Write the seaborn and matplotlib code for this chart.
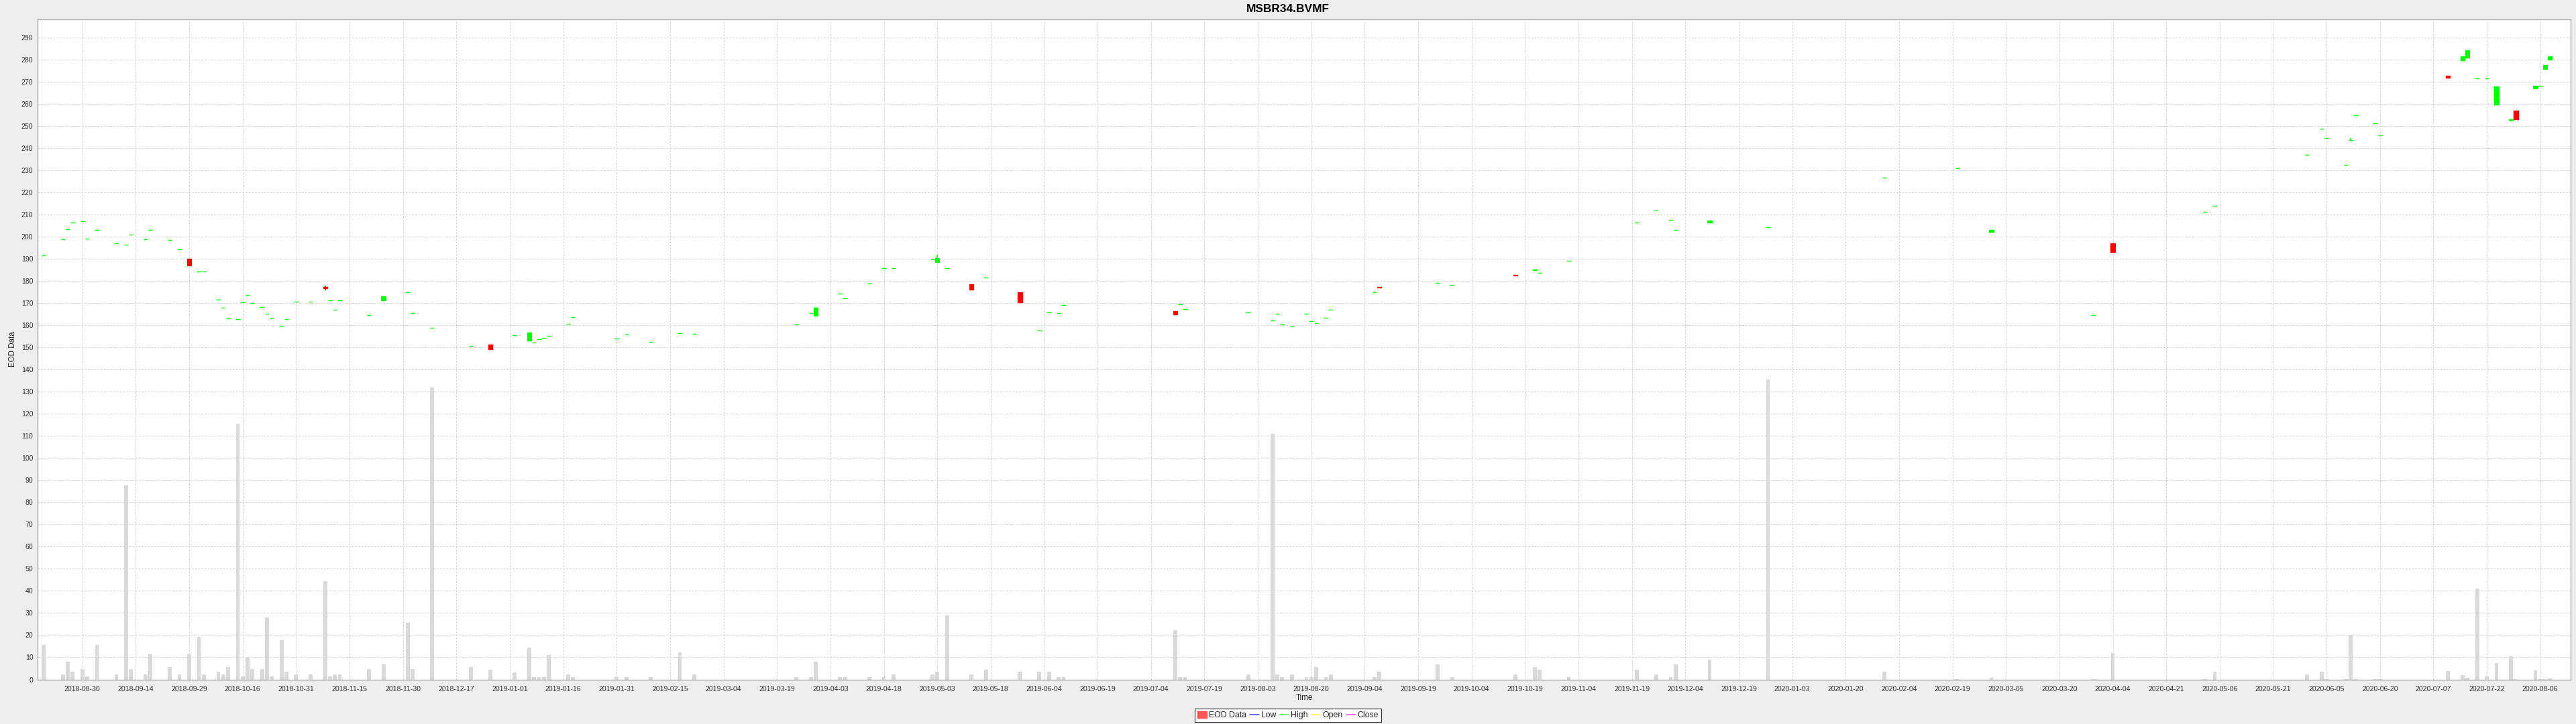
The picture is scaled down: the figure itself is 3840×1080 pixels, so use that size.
import numpy as np
import pandas as pd
import matplotlib
matplotlib.use("Agg")
import matplotlib.pyplot as plt
from matplotlib.lines import Line2D
from matplotlib.patches import Patch
import seaborn as sns

# ---------------- data ----------------
dates = [
    "2018-08-20", "2018-08-24", "2018-08-27", "2018-08-28", "2018-08-30", "2018-08-31",
    "2018-09-04", "2018-09-10", "2018-09-12", "2018-09-13", "2018-09-18", "2018-09-19",
    "2018-09-25", "2018-09-27", "2018-10-01", "2018-10-03", "2018-10-04", "2018-10-09",
    "2018-10-10", "2018-10-11", "2018-10-15", "2018-10-16", "2018-10-17", "2018-10-18",
    "2018-10-22", "2018-10-23", "2018-10-24", "2018-10-26", "2018-10-29", "2018-10-31",
    "2018-11-05", "2018-11-08", "2018-11-09", "2018-11-12", "2018-11-13", "2018-11-21",
    "2018-11-26", "2018-12-03", "2018-12-04", "2018-12-10", "2018-12-20", "2018-12-26",
    "2019-01-02", "2019-01-07", "2019-01-08", "2019-01-09", "2019-01-10", "2019-01-11",
    "2019-01-17", "2019-01-18", "2019-01-31", "2019-02-04", "2019-02-11", "2019-02-19",
    "2019-02-22", "2019-03-25", "2019-03-28", "2019-03-29", "2019-04-05", "2019-04-08",
    "2019-04-15", "2019-04-18", "2019-04-22", "2019-05-02", "2019-05-03", "2019-05-07",
    "2019-05-14", "2019-05-17", "2019-05-28", "2019-06-03", "2019-06-05", "2019-06-07",
    "2019-06-10", "2019-07-11", "2019-07-12", "2019-07-15", "2019-08-01", "2019-08-08",
    "2019-08-09", "2019-08-12", "2019-08-14", "2019-08-19", "2019-08-20", "2019-08-21",
    "2019-08-23", "2019-08-26", "2019-09-06", "2019-09-09", "2019-09-25", "2019-09-30",
    "2019-10-17", "2019-10-23", "2019-10-24", "2019-11-01", "2019-11-21", "2019-11-27",
    "2019-12-02", "2019-12-03", "2019-12-12", "2019-12-30", "2020-01-31", "2020-02-21",
    "2020-03-03", "2020-04-01", "2020-04-07", "2020-05-04", "2020-05-06", "2020-06-02",
    "2020-06-05", "2020-06-08", "2020-06-12", "2020-06-15", "2020-06-16", "2020-06-22",
    "2020-06-23", "2020-07-13", "2020-07-16", "2020-07-17", "2020-07-21", "2020-07-23",
    "2020-07-27", "2020-07-30", "2020-07-31", "2020-08-06", "2020-08-07", "2020-08-10",
    "2020-08-11",
]

open_ = [
    191.5, 198.7, 203.5, 206.5, 207.0, 199.0, 203.0, 196.9, 196.4, 201.0, 198.7, 203.1,
    198.4, 194.3, 190.0, 184.3, 184.2, 171.7, 167.9, 163.0, 162.8, 170.5, 173.7, 170.1,
    168.4, 165.2, 163.0, 159.6, 162.8, 170.6, 170.6, 177.2, 171.3, 167.0, 171.2, 164.7,
    171.2, 174.9, 165.6, 158.8, 150.7, 151.4, 155.4, 153.1, 152.2, 153.8, 154.3, 155.3,
    160.8, 163.8, 154.1, 155.7, 152.6, 156.4, 156.0, 160.5, 165.4, 164.3, 174.4, 172.3,
    178.9, 185.9, 185.9, 189.9, 188.6, 185.9, 178.6, 181.6, 174.9, 157.8, 165.7, 165.4,
    169.1, 166.5, 169.6, 167.2, 165.8, 162.2, 165.3, 160.3, 159.6, 165.3, 161.9, 161.1,
    163.4, 166.9, 174.9, 177.4, 179.2, 178.2, 182.9, 184.9, 183.8, 189.2, 206.5, 211.9,
    207.6, 203.0, 206.4, 204.2, 226.6, 230.8, 202.2, 164.7, 196.9, 211.4, 214.1, 237.1,
    248.9, 244.5, 232.6, 243.6, 255.0, 251.1, 245.8, 272.7, 279.8, 280.9, 271.6, 271.6,
    259.7, 252.8, 257.0, 266.9, 268.1, 275.7, 279.9,
]

close = [
    191.5, 198.7, 203.5, 206.5, 207.0, 199.0, 203.0, 196.9, 196.4, 201.0, 198.7, 203.1,
    198.4, 194.3, 186.9, 184.3, 184.2, 171.7, 167.9, 163.0, 162.8, 170.5, 173.7, 170.1,
    168.4, 165.2, 163.0, 159.6, 162.8, 170.6, 170.6, 176.6, 171.3, 167.0, 171.2, 164.7,
    173.1, 174.9, 165.6, 158.8, 150.7, 149.2, 155.4, 156.6, 152.2, 153.8, 154.3, 155.3,
    160.8, 163.8, 154.1, 155.7, 152.6, 156.4, 156.0, 160.5, 165.4, 167.9, 174.4, 172.3,
    178.9, 185.9, 185.9, 189.9, 190.5, 185.9, 176.1, 181.6, 170.5, 157.8, 165.7, 165.4,
    169.1, 165.0, 169.6, 167.2, 165.8, 162.2, 165.3, 160.3, 159.6, 165.3, 161.9, 161.1,
    163.4, 166.9, 174.9, 177.0, 179.2, 178.2, 182.6, 185.3, 183.8, 189.2, 206.5, 211.9,
    207.6, 203.0, 207.4, 204.2, 226.6, 230.8, 203.2, 164.7, 193.2, 211.4, 214.1, 237.1,
    248.9, 244.5, 232.6, 243.8, 255.0, 251.1, 245.8, 271.9, 281.6, 284.3, 271.6, 271.6,
    267.9, 253.1, 253.0, 268.1, 268.1, 277.7, 281.6,
]

high = [
    191.5, 198.7, 203.5, 206.5, 207.0, 199.0, 203.0, 196.9, 196.4, 201.0, 198.7, 203.1,
    198.4, 194.3, 190.0, 184.3, 184.2, 171.7, 167.9, 163.0, 162.8, 170.5, 173.7, 170.1,
    168.4, 165.2, 163.0, 159.6, 162.8, 170.6, 170.6, 177.9, 171.3, 167.0, 171.2, 164.7,
    173.1, 174.9, 165.6, 158.8, 150.7, 151.4, 155.4, 156.6, 152.2, 153.8, 154.3, 155.3,
    160.8, 163.8, 154.1, 155.7, 152.6, 156.4, 156.0, 160.5, 165.4, 167.9, 174.4, 172.3,
    178.9, 185.9, 185.9, 189.9, 191.9, 185.9, 178.6, 181.6, 174.9, 157.8, 165.7, 165.4,
    169.1, 166.5, 169.6, 167.2, 165.8, 162.2, 165.3, 160.3, 159.6, 165.3, 161.9, 161.1,
    163.4, 166.9, 174.9, 177.4, 179.2, 178.2, 182.9, 185.3, 183.8, 189.2, 206.5, 211.9,
    207.6, 203.0, 207.4, 204.2, 226.6, 230.8, 203.2, 164.7, 196.9, 211.4, 214.1, 237.1,
    248.9, 244.5, 232.6, 244.5, 255.0, 251.1, 245.8, 272.7, 281.6, 284.3, 271.6, 271.6,
    267.9, 253.2, 257.0, 268.1, 268.1, 277.7, 281.6,
]

low = [
    191.5, 198.7, 203.5, 206.5, 207.0, 199.0, 203.0, 196.9, 196.4, 201.0, 198.7, 203.1,
    198.4, 194.3, 186.9, 184.3, 184.2, 171.7, 167.9, 163.0, 162.8, 170.5, 173.7, 170.1,
    168.4, 165.2, 163.0, 159.6, 162.8, 170.6, 170.6, 175.8, 171.3, 167.0, 171.2, 164.7,
    171.2, 174.9, 165.6, 158.8, 150.7, 149.2, 155.4, 153.1, 152.2, 153.8, 154.3, 155.3,
    160.8, 163.8, 154.1, 155.7, 152.6, 156.4, 156.0, 160.5, 165.4, 164.3, 174.4, 172.3,
    178.9, 185.9, 185.9, 189.9, 188.6, 185.9, 176.1, 181.6, 170.5, 157.8, 165.7, 165.4,
    169.1, 165.0, 169.6, 167.2, 165.8, 162.2, 165.3, 160.3, 159.6, 165.3, 161.9, 161.1,
    163.4, 166.9, 174.9, 177.0, 179.2, 178.2, 182.6, 184.9, 183.8, 189.2, 206.5, 211.9,
    207.6, 203.0, 206.4, 204.2, 226.6, 230.8, 202.2, 164.7, 193.2, 211.4, 214.1, 237.1,
    248.9, 244.5, 232.6, 243.3, 255.0, 251.1, 245.8, 271.9, 279.8, 280.9, 271.6, 271.6,
    259.7, 252.3, 253.0, 266.9, 268.1, 275.7, 279.9,
]

volume = [
    15.6, 2.4, 7.9, 3.4, 4.6, 1.4, 15.6, 2.4, 87.6, 4.6, 2.4, 11.3,
    5.7, 2.4, 11.3, 19.1, 2.4, 3.4, 2.4, 5.7, 115.5, 1.4, 10.1, 4.6,
    4.6, 27.9, 1.4, 17.8, 3.4, 2.4, 2.4, 44.4, 1.4, 2.4, 2.4, 4.6,
    6.8, 25.6, 4.6, 132.0, 5.7, 4.5, 3.3, 14.4, 1.2, 1.2, 1.2, 11.2,
    2.3, 1.2, 1.2, 1.2, 1.2, 12.2, 2.3, 1.2, 1.2, 7.9, 1.2, 1.2,
    1.2, 1.2, 2.3, 2.3, 3.4, 28.9, 2.3, 4.5, 3.4, 3.4, 3.4, 1.2,
    1.2, 22.2, 1.2, 1.2, 2.3, 110.9, 2.3, 1.2, 2.3, 1.2, 1.2, 5.7,
    1.2, 2.3, 1.2, 3.4, 6.8, 1.2, 2.3, 5.7, 4.5, 1.2, 4.5, 2.3,
    1.2, 6.8, 9.0, 135.4, 3.4, 0.3, 0.7, 0.3, 11.9, 0.3, 3.4, 2.3,
    3.4, 0.3, 0.3, 20.1, 0.3, 0.3, 0.3, 3.7, 1.9, 0.7, 41.1, 1.4,
    7.3, 10.3, 0.3, 4.1, 0.3, 0.3, 0.6,
]

tick_labels = [
    "2018-08-30", "2018-09-14", "2018-09-29", "2018-10-16", "2018-10-31", "2018-11-15",
    "2018-11-30", "2018-12-17", "2019-01-01", "2019-01-16", "2019-01-31", "2019-02-15",
    "2019-03-04", "2019-03-19", "2019-04-03", "2019-04-18", "2019-05-03", "2019-05-18",
    "2019-06-04", "2019-06-19", "2019-07-04", "2019-07-19", "2019-08-03", "2019-08-20",
    "2019-09-04", "2019-09-19", "2019-10-04", "2019-10-19", "2019-11-04", "2019-11-19",
    "2019-12-04", "2019-12-19", "2020-01-03", "2020-01-20", "2020-02-04", "2020-02-19",
    "2020-03-05", "2020-03-20", "2020-04-04", "2020-04-21", "2020-05-06", "2020-05-21",
    "2020-06-05", "2020-06-20", "2020-07-07", "2020-07-22", "2020-08-06",
]
y_ticks = list(range(0, 300, 10))

title = "MSBR34.BVMF"
x_label = "Time"
y_label = "EOD Data"
legend_labels = ["EOD Data", "Low", "High", "Open", "Close"]

# ---------------- styling ----------------
sns.set_style("white")
plt.rcParams["font.family"] = ["Liberation Sans", "DejaVu Sans"]

W, H, DPI = 3840, 1080, 100
UP, DOWN = "#00ff00", "#ff0000"
GRID = "#d2d2d2"
BORDER = "#a8a8a8"
TICK_STEP = 11  # weekdays between date ticks (segmented Mon-Fri time axis)

df = pd.DataFrame({"date": pd.to_datetime(dates), "open": open_, "high": high,
                   "low": low, "close": close, "volume": volume})
# position on a Monday-Friday (weekends removed) time line
df["x"] = np.busday_count(np.datetime64(tick_labels[0]),
                          df["date"].values.astype("datetime64[D]"))
df["up"] = df["close"] >= df["open"]
df["color"] = np.where(df["up"], UP, DOWN)

fig = plt.figure(figsize=(W / DPI, H / DPI), dpi=DPI, facecolor="#eeeeee")
L, R, T, B = 56.3, 3832.0, 29.3, 1013.5
ax = fig.add_axes([L / W, 1 - B / H, (R - L) / W, (B - T) / H])
ax.set_facecolor("white")

# volume bars (seaborn, native numeric scale)
sns.barplot(data=df, x="x", y="volume", native_scale=True, color="#d9d9d9",
            saturation=1, errorbar=None, width=0.8, linewidth=0, ax=ax, zorder=2)

# wicks
ax.vlines(df["x"], df["low"], df["high"], colors=df["color"], linewidth=1.2, zorder=3)
# bodies
body_bottom = np.minimum(df["open"], df["close"])
body_height = (df["close"] - df["open"]).abs()
ax.bar(df["x"], body_height, bottom=body_bottom, width=0.9, color=df["color"],
       edgecolor=df["color"], linewidth=1.0, zorder=4)

# axes
n_ticks = len(tick_labels)
ax.set_xticks(np.arange(n_ticks) * TICK_STEP)
ax.set_xticklabels(tick_labels)
ax.set_yticks(y_ticks)
ax.set_xlim(-9.18, 512.25)
ax.set_ylim(0, 298.1)
ax.set_xlabel("")
ax.set_ylabel("")

ax.grid(True, which="major", axis="both", color=GRID, linestyle=(0, (2.5, 2.0)),
        linewidth=0.75)
ax.set_axisbelow(True)
for s in ax.spines.values():
    s.set_color(BORDER)
    s.set_linewidth(1.0)
ax.tick_params(axis="both", which="major", length=2.5, width=0.8, color="#999999",
               labelsize=7.6, labelcolor="#333333", pad=2.5, direction="out")
ax.tick_params(axis="x", pad=4.0)

fig.text(0.5, 1 - 18.3 / H, title, ha="center", va="baseline",
         fontsize=12.5, fontweight="bold", color="black")
fig.text(1944 / W, 1 - 1041 / H, x_label, ha="center", va="center",
         fontsize=8.3, color="#222222")
fig.text(19.5 / W, 1 - 521 / H, y_label, ha="center", va="center", rotation=90,
         fontsize=8.3, color="#222222")

handles = [
    Patch(facecolor="#ff5555", edgecolor="#ff5555", label=legend_labels[0]),
    Line2D([0], [0], color="#5555ff", lw=1.2, label=legend_labels[1]),
    Line2D([0], [0], color="#55ff55", lw=1.2, label=legend_labels[2]),
    Line2D([0], [0], color="#ffff55", lw=1.2, label=legend_labels[3]),
    Line2D([0], [0], color="#ff55ff", lw=1.2, label=legend_labels[4]),
]
leg = fig.legend(handles=handles, loc="center", bbox_to_anchor=(1920 / W, 1 - 1067 / H),
                 ncol=5, frameon=True, fancybox=False, fontsize=8.8,
                 handlelength=1.1, handleheight=0.9, handletextpad=0.25,
                 columnspacing=0.45, borderpad=0.3, borderaxespad=0)
leg.get_frame().set_edgecolor("black")
leg.get_frame().set_linewidth(0.8)
leg.get_frame().set_facecolor("white")

fig.savefig("out.png", dpi=DPI, facecolor=fig.get_facecolor())
